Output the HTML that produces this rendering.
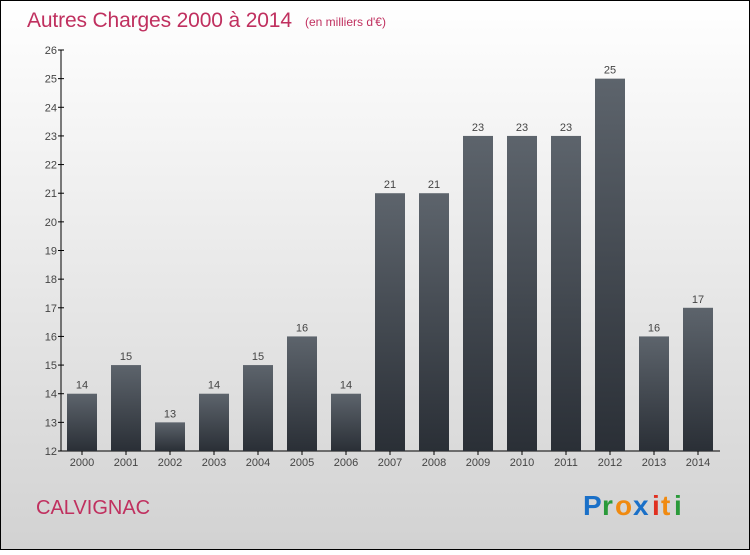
<!DOCTYPE html>
<html><head><meta charset="utf-8"><style>
body{margin:0;width:750px;height:550px;overflow:hidden;font-family:"Liberation Sans",sans-serif}
</style></head><body>
<svg id="chart" width="750" height="550" xmlns="http://www.w3.org/2000/svg">
<defs>
<linearGradient id="bg" x1="0" y1="0" x2="0" y2="1"><stop offset="0" stop-color="#ffffff"/><stop offset="1" stop-color="#d2d2d2"/></linearGradient>
<linearGradient id="bar" x1="0" y1="0" x2="0" y2="1"><stop offset="0" stop-color="#5d646c"/><stop offset="1" stop-color="#2a2f36"/></linearGradient>
</defs>
<rect x="0.5" y="0.5" width="749" height="549" fill="url(#bg)" stroke="#000"/>
<text x="27" y="27" font-size="21" fill="#c0305f" textLength="265">Autres Charges 2000 à 2014</text>
<text x="305" y="26" font-size="12" fill="#c0305f">(en milliers d'€)</text>
<text x="36" y="514" font-size="20" fill="#c0305f">CALVIGNAC</text>
<g font-size="28" font-weight="bold">
<text x="583" y="515" fill="#1a70c8">P</text><text x="602" y="515" fill="#2a9a3a">r</text><text x="615" y="515" fill="#f08a10">o</text><text x="633" y="515" fill="#1a70c8">x</text><text x="652" y="515" fill="#e03020">i</text><text x="661" y="515" fill="#f08a10">t</text><text x="674" y="515" fill="#2a9a3a">i</text>
</g>
<g id="plot"></g>
</svg>
<script>
const years=["2000","2001","2002","2003","2004","2005","2006","2007","2008","2009","2010","2011","2012","2013","2014"];
const values=[14,15,13,14,15,16,14,21,21,23,23,23,25,16,17];
const yTicks=[12,13,14,15,16,17,18,19,20,21,22,23,24,25,26];
const NS="http://www.w3.org/2000/svg";
const g=document.getElementById('plot');
const yMin=12,yMax=26,yTop=50,yBot=451;
const y=v=>yBot-(v-yMin)*(yBot-yTop)/(yMax-yMin);
const x=i=>82+i*44;
function mk(t,a){const e=document.createElementNS(NS,t);for(const k in a)e.setAttribute(k,a[k]);g.appendChild(e);return e;}
const ax=mk('line',{x1:61,y1:yTop,x2:61,y2:yBot,stroke:'#000'});


const xa=mk('line',{x1:61,y1:yBot,x2:720,y2:yBot,stroke:'#000'});


yTicks.forEach(v=>{
 const tk=mk('line',{x1:58,y1:y(v),x2:64,y2:y(v),stroke:'#000'});
 
 
 const t=mk('text',{x:57,y:y(v)+4,'font-size':11,fill:'#444','text-anchor':'end'});
 t.textContent=v;
 
 
});
values.forEach((v,i)=>{
 const r=mk('rect',{x:x(i)-15,y:y(v),width:30,height:yBot-y(v),fill:'url(#bar)'});
 
 
 const t=mk('text',{x:x(i),y:y(v)-5,'font-size':11,fill:'#444','text-anchor':'middle'});
 t.textContent=v;
 
 
 const tk=mk('line',{x1:x(i),y1:yBot,x2:x(i),y2:yBot+4,stroke:'#000'});
 
 
 const l=mk('text',{x:x(i),y:yBot+15,'font-size':11,fill:'#444','text-anchor':'middle'});
 l.textContent=years[i];
 
 
});
</script>
</body></html>
